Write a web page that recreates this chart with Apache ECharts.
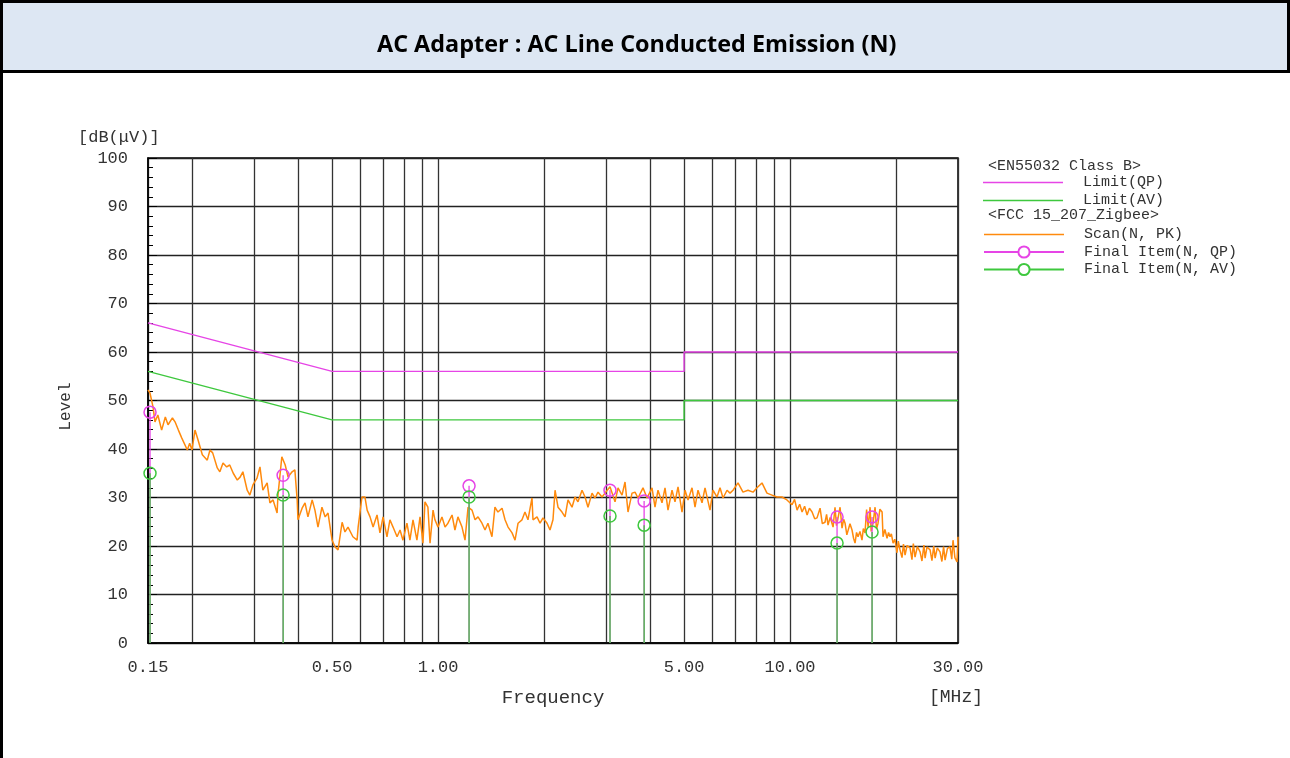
<!DOCTYPE html>
<html><head><meta charset="utf-8">
<script src="https://cdn.jsdelivr.net/npm/echarts@6/dist/echarts.min.js"></script>
<style>html,body{margin:0;padding:0;background:#fff}#c{width:1290px;height:758px}</style>
</head><body><div id="c"></div><script>
const titleText = 'AC Adapter : AC Line Conducted Emission (N)';
const xLabelValues = [0.15, 0.5, 1, 5, 10, 30];
const xGridValues = [0.15, 0.2, 0.3, 0.4, 0.5, 0.6, 0.7, 0.8, 0.9, 1, 2, 3, 4, 5, 6, 7, 8, 9, 10, 20, 30];
const limitQP = [[0.15, 66], [0.5, 56], [5, 56], [5, 60], [30, 60]];
const limitAV = [[0.15, 56], [0.5, 46], [5, 46], [5, 50], [30, 50]];
const finalFreq = [0.152, 0.363, 1.225, 3.08, 3.85, 13.6, 17.1];
const finalQP = [47.6, 34.6, 32.4, 31.5, 29.3, 26.0, 26.0];
const finalAV = [35.0, 30.5, 30.1, 26.2, 24.3, 20.6, 22.9];
const scan = [[0.150,52.2],[0.152,51.5],[0.155,48.7],[0.157,45.6],[0.160,47.0],[0.164,43.9],[0.168,46.6],[0.171,45.0],[0.176,46.4],[0.179,45.6],[0.183,43.9],[0.187,42.3],[0.194,39.8],[0.197,41.2],[0.200,39.8],[0.204,43.9],[0.208,41.9],[0.214,38.8],[0.221,37.7],[0.225,39.8],[0.229,39.2],[0.236,36.1],[0.240,35.3],[0.245,37.1],[0.251,36.3],[0.256,36.7],[0.262,35.0],[0.269,33.6],[0.274,34.2],[0.279,35.3],[0.287,31.5],[0.292,30.5],[0.298,32.6],[0.306,34.0],[0.312,36.3],[0.318,31.5],[0.327,33.0],[0.333,28.9],[0.340,29.5],[0.349,26.8],[0.351,30.5],[0.360,38.4],[0.368,36.7],[0.375,34.2],[0.385,35.3],[0.392,35.7],[0.398,29.5],[0.400,25.4],[0.411,27.8],[0.419,28.9],[0.427,26.0],[0.439,29.5],[0.447,27.4],[0.456,23.9],[0.468,28.0],[0.478,26.0],[0.487,26.8],[0.500,21.2],[0.510,19.8],[0.520,19.2],[0.534,24.9],[0.544,22.9],[0.555,23.9],[0.562,23.9],[0.573,21.9],[0.589,21.2],[0.593,23.9],[0.608,30.1],[0.620,30.1],[0.629,27.4],[0.641,26.0],[0.654,23.9],[0.671,26.4],[0.684,22.7],[0.698,26.0],[0.716,21.9],[0.730,25.4],[0.745,23.9],[0.765,21.9],[0.780,23.3],[0.795,21.2],[0.816,24.7],[0.832,21.2],[0.849,25.4],[0.871,21.2],[0.889,26.0],[0.906,20.6],[0.918,29.1],[0.936,28.0],[0.949,20.6],[0.968,27.4],[0.980,25.4],[1.000,23.9],[1.026,26.0],[1.047,23.9],[1.067,24.7],[1.096,26.4],[1.117,23.3],[1.139,26.0],[1.170,23.9],[1.193,21.2],[1.217,28.0],[1.249,27.4],[1.274,25.4],[1.299,26.0],[1.333,24.7],[1.360,23.3],[1.386,24.7],[1.423,21.9],[1.451,28.0],[1.480,27.0],[1.520,27.8],[1.550,25.4],[1.581,23.9],[1.623,22.7],[1.655,21.2],[1.688,24.7],[1.732,25.4],[1.766,27.0],[1.801,25.4],[1.849,29.9],[1.861,25.4],[1.911,26.0],[1.949,24.7],[1.987,25.8],[2.040,24.7],[2.080,23.3],[2.121,25.4],[2.150,31.5],[2.192,28.0],[2.250,27.0],[2.295,26.0],[2.340,29.5],[2.402,28.0],[2.450,30.1],[2.498,29.1],[2.565,31.5],[2.616,30.1],[2.667,28.0],[2.738,30.9],[2.792,29.9],[2.848,31.1],[2.923,30.1],[2.981,30.9],[3.080,32.2],[3.183,29.1],[3.246,32.0],[3.332,30.5],[3.398,33.2],[3.465,27.0],[3.557,30.9],[3.628,31.1],[3.699,29.9],[3.822,32.0],[3.924,29.9],[4.054,32.0],[4.134,28.0],[4.216,31.5],[4.328,28.9],[4.414,32.0],[4.501,27.4],[4.621,31.5],[4.712,29.1],[4.806,32.2],[4.933,27.0],[5.031,31.5],[5.131,29.5],[5.267,32.0],[5.371,28.0],[5.477,31.5],[5.623,28.9],[5.734,32.0],[5.924,27.4],[6.042,31.5],[6.202,30.1],[6.325,32.0],[6.451,29.9],[6.622,31.5],[6.753,30.9],[6.887,31.5],[7.115,33.0],[7.351,31.1],[7.595,31.5],[7.848,31.1],[8.055,32.0],[8.323,33.0],[8.599,30.9],[8.885,30.5],[9.179,30.1],[9.484,30.1],[9.800,29.5],[10.13,28.5],[10.30,29.6],[10.47,27.4],[10.65,28.6],[10.82,27.0],[11.00,28.2],[11.18,26.4],[11.35,27.8],[11.55,27.0],[11.75,25.6],[11.93,25.8],[12.17,27.8],[12.35,24.6],[12.57,24.9],[12.70,26.5],[12.82,24.3],[13.00,25.9],[13.25,23.9],[13.42,28.0],[13.55,24.2],[13.69,25.8],[13.87,28.0],[14.05,23.7],[14.20,25.5],[14.33,24.7],[14.50,22.3],[14.61,22.7],[14.80,24.6],[15.00,23.3],[15.15,21.6],[15.30,20.6],[15.45,22.8],[15.60,21.9],[15.80,23.0],[16.01,21.2],[16.15,23.6],[16.33,22.7],[16.50,27.5],[16.66,23.9],[16.88,28.0],[17.00,23.0],[17.21,24.7],[17.44,28.0],[17.60,23.5],[17.78,24.7],[18.00,27.6],[18.26,27.0],[18.37,21.9],[18.60,23.4],[18.86,21.6],[19.05,22.8],[19.23,21.9],[19.40,22.5],[19.62,20.6],[19.85,21.4],[20.13,18.6],[20.30,21.0],[20.53,19.2],[20.80,17.6],[21.00,20.4],[21.22,18.1],[21.50,20.1],[21.92,19.6],[22.20,17.2],[22.40,20.5],[22.65,17.7],[23.00,19.9],[23.41,18.8],[23.70,16.9],[24.00,20.2],[24.19,17.5],[24.50,19.8],[24.99,19.2],[25.30,17.0],[25.60,20.0],[25.83,17.5],[26.20,19.6],[26.67,18.8],[27.00,16.8],[27.30,19.9],[27.57,17.1],[28.00,19.5],[28.47,19.8],[28.80,17.3],[29.04,21.2],[29.40,17.6],[29.81,16.7],[30.0,21.9]];

const MAG = '#e645e6', GRN = '#3ec83e', ORG = '#ff8a0d';
const MONO = '"Liberation Mono", "DejaVu Sans Mono", monospace';
const linePath = 'path://M0,0L0,0.01M0,6.2H80V7.8H0ZM80,14L80,13.99';

function stems(vals) {
  const out = [];
  finalFreq.forEach((f, i) => { out.push([f, 0], [f, vals[i]], [f, '-']); });
  return out;
}

const chart = echarts.init(document.getElementById('c'), null, {renderer: 'canvas'});
chart.setOption({
  animation: false,
  backgroundColor: '#fff',
  title: {
    text: titleText, left: 372, top: 29,
    textStyle: {fontFamily: '"Open Sans", sans-serif', fontWeight: 'bold', fontSize: 23.4, color: '#000'}
  },
  graphic: [
    {type: 'rect', shape: {x: 1.5, y: 1.5, width: 1287, height: 70}, style: {fill: '#dde7f3', stroke: '#000', lineWidth: 3}, z: -1},
    {type: 'line', shape: {x1: 1.5, y1: 72, x2: 1.5, y2: 758}, style: {stroke: '#000', lineWidth: 3}},
    {type: 'text', left: 78, top: 129, style: {text: '[dB(μV)]', font: '17px ' + MONO, fill: '#333'}},
    {type: 'text', left: 929, top: 688, style: {text: '[MHz]', font: '18px ' + MONO, fill: '#333'}},
    {type: 'text', left: 988, top: 159, style: {text: '<EN55032 Class B>', font: '15px ' + MONO, fill: '#333'}},
    {type: 'text', left: 988, top: 208, style: {text: '<FCC 15_207_Zigbee>', font: '15px ' + MONO, fill: '#333'}}
  ],
  legend: [
    {left: 983, top: 175, padding: 0, orient: 'vertical', itemWidth: 80, itemHeight: 14, itemGap: 3,
     textStyle: {fontFamily: MONO, fontSize: 15, color: '#333', padding: [0, 0, 0, 15]},
     data: [{name: 'Limit(QP)', icon: linePath}, {name: 'Limit(AV)', icon: linePath}]},
    {left: 983, top: 227, padding: 0, orient: 'vertical', itemWidth: 80, itemHeight: 14, itemGap: 2.5,
     textStyle: {fontFamily: MONO, fontSize: 15, color: '#333', padding: [0, 0, 0, 15]},
     data: [{name: 'Scan(N, PK)', icon: linePath},
            {name: 'Final Item(N, QP)', itemStyle: {color: '#fff'}},
            {name: 'Final Item(N, AV)', itemStyle: {color: '#fff'}}]}
  ],
  grid: {left: 148, top: 158, width: 810, height: 485, show: true, borderColor: '#000', borderWidth: 1.5, backgroundColor: 'transparent'},
  xAxis: {
    type: 'log', logBase: 10, min: 0.15, max: 30,
    name: 'Frequency', nameLocation: 'middle', nameGap: 45,
    nameTextStyle: {fontFamily: MONO, fontSize: 19, color: '#333'},
    axisLine: {lineStyle: {color: '#000', width: 1.5}},
    axisTick: {show: false, customValues: xGridValues},
    axisLabel: {customValues: xLabelValues, margin: 16, fontFamily: MONO, fontSize: 17, color: '#333',
      formatter: v => Number(v).toFixed(2)},
    splitLine: {show: true, lineStyle: {color: '#333', width: 1.3}},
    minorTick: {show: false}, minorSplitLine: {show: false}
  },
  yAxis: {
    type: 'value', min: 0, max: 100, interval: 10,
    name: 'Level', nameLocation: 'middle', nameGap: 74, nameRotate: 90,
    nameTextStyle: {fontFamily: MONO, fontSize: 16, color: '#333', padding: [0, 12, 0, 0]},
    axisLine: {show: true, lineStyle: {color: '#000', width: 1.5}},
    axisTick: {show: true, inside: true, length: 9, lineStyle: {color: '#000'}},
    minorTick: {show: true, splitNumber: 5, length: 5, lineStyle: {color: '#000'}},
    axisLabel: {margin: 20, fontFamily: MONO, fontSize: 17, color: '#333'},
    splitLine: {show: true, lineStyle: {color: '#222', width: 1.3}}
  },
  series: [
    {name: 'Limit(QP)', type: 'line', data: limitQP, symbol: 'none', color: MAG, lineStyle: {color: MAG, width: 1.4}, z: 3},
    {name: 'Limit(AV)', type: 'line', data: limitAV, symbol: 'none', color: GRN, lineStyle: {color: GRN, width: 1.4}, z: 3},
    {name: 'Scan(N, PK)', type: 'line', data: scan, symbol: 'none', color: ORG, lineStyle: {color: ORG, width: 1.5}, z: 4},
    {name: 'Final Item(N, QP)', type: 'line', data: stems(finalQP), connectNulls: false,
     symbol: v => (v[1] > 0 ? 'circle' : 'none'), symbolSize: 12,
     itemStyle: {color: 'rgba(0,0,0,0)', borderColor: MAG, borderWidth: 1.5},
     lineStyle: {color: MAG, width: 1.3}, z: 5},
    {name: 'Final Item(N, AV)', type: 'line', data: stems(finalAV), connectNulls: false,
     symbol: v => (v[1] > 0 ? 'circle' : 'none'), symbolSize: 12,
     itemStyle: {color: 'rgba(0,0,0,0)', borderColor: GRN, borderWidth: 1.5},
     lineStyle: {color: GRN, width: 1.3}, z: 6}
  ]
});
</script></body></html>
